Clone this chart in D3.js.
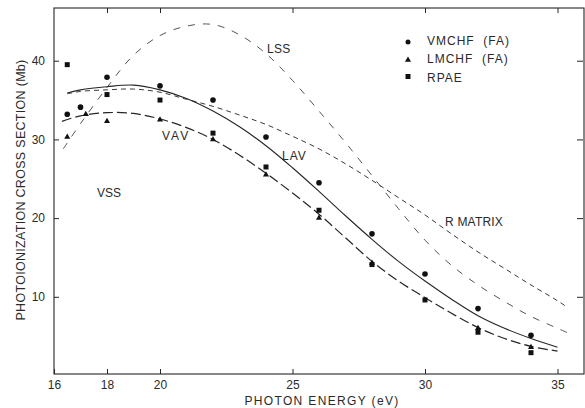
<!DOCTYPE html>
<html><head><meta charset="utf-8">
<script src="https://cdn.jsdelivr.net/npm/d3@7"></script>
<style>
html,body{margin:0;padding:0;background:#fff;}
svg text{font-family:"Liberation Sans",Arial,sans-serif;fill:#2a2a2a;}
</style>
</head><body>
<svg id="chart" width="585" height="408"></svg>
<script>
// ---- data ----
const xTicks = [16, 18, 20, 25, 30, 35];
const yTicks = [10, 20, 30, 40];

// theory curves
const lavE = [16.5, 17, 18, 19, 20, 21, 22, 23, 24, 25, 26, 27, 28, 29, 30, 31, 32, 33, 34, 35];
const lavV = [35.9, 36.3, 36.7, 36.9, 36.3, 35.2, 33.6, 31.6, 29.2, 26.4, 23.4, 20.3, 17.3, 14.5, 12.0, 9.7, 7.6, 6.0, 4.7, 3.6];

const vavE = [16.3, 17, 18, 19, 20, 21, 22, 23, 24, 25, 26, 27, 28, 29, 30, 31, 32, 33, 34, 35];
const vavV = [32.3, 33.0, 33.4, 33.3, 32.6, 31.5, 30.0, 28.0, 25.7, 23.2, 20.5, 17.5, 14.5, 12.0, 9.9, 7.9, 6.1, 4.7, 3.7, 3.1];

const rmE = [16.5, 17, 18, 19, 20, 21, 22, 23, 24, 25, 26, 27, 28, 29, 30, 31, 32, 33, 34, 35, 35.4];
const rmV = [35.8, 36.1, 36.3, 36.4, 36.0, 35.1, 34.2, 33.1, 31.9, 30.4, 28.8, 26.9, 24.8, 22.6, 20.4, 18.0, 15.7, 13.6, 11.5, 9.5, 8.6];

const lssE = [16.35, 17, 18, 19, 20, 21, 22, 23, 24, 25, 26, 27, 28, 29, 30, 31, 32, 33, 34, 35, 35.4];
const lssV = [28.8, 32.0, 36.6, 40.7, 43.2, 44.4, 44.6, 43.3, 40.9, 37.5, 33.6, 29.6, 25.4, 21.2, 17.2, 14.0, 11.5, 9.4, 7.5, 6.0, 5.4];

// calculated points
const vmE = [16.5, 17, 18, 20, 22, 24, 26, 28, 30, 32, 34];
const vmV = [33.2, 34.1, 37.9, 36.8, 35.0, 30.3, 24.5, 18.0, 12.9, 8.5, 5.1];

const lmE = [16.5, 17.2, 18, 20, 22, 24, 26, 28, 32, 34];
const lmV = [30.3, 33.2, 32.3, 32.5, 30.0, 25.5, 20.0, 14.3, 6.0, 3.6];

const rpE = [16.5, 18, 20, 22, 24, 26, 28, 30, 32, 34];
const rpV = [39.5, 35.7, 35.0, 30.8, 26.5, 21.0, 14.1, 9.6, 5.5, 2.9];

const legendLabels = ["VMCHF  (FA)", "LMCHF  (FA)", "RPAE"];
const curveLabels = ["LSS", "VAV", "LAV", "VSS", "R MATRIX"];

// ---- drawing ----
const svg = d3.select("#chart");
const L = 54, R = 584, T = 8, B = 374;
const x = d3.scaleLinear().domain([16, 36]).range([L, R]);
const y = d3.scaleLinear().domain([0, 46.7]).range([375.5, T]);

const ink = "#262626";

// frame
svg.append("rect").attr("x", L).attr("y", T).attr("width", R - L).attr("height", B - T)
  .attr("fill", "none").attr("stroke", ink).attr("stroke-width", 1.1);

function styleAxis(g) {
  g.select(".domain").remove();
  g.selectAll(".tick line").attr("stroke", ink).attr("stroke-width", 1);
  g.selectAll(".tick text").attr("font-size", 12).attr("fill", "#2a2a2a")
    .style("font-family", '"Liberation Sans",Arial,sans-serif');
}
svg.append("g").attr("transform", `translate(0,${B})`)
  .call(d3.axisBottom(x).tickValues(xTicks).tickSize(-5).tickPadding(6).tickFormat(d3.format("d")))
  .call(styleAxis);
svg.append("g").attr("transform", `translate(0,${T})`)
  .call(d3.axisTop(x).tickValues(xTicks.slice(1)).tickSize(-5).tickFormat(""))
  .call(styleAxis);
svg.append("g").attr("transform", `translate(${L},0)`)
  .call(d3.axisLeft(y).tickValues(yTicks).tickSize(-5).tickPadding(9).tickFormat(d3.format("d")))
  .call(styleAxis);
svg.append("g").attr("transform", `translate(${R - 1},0)`)
  .call(d3.axisRight(y).tickValues(yTicks).tickSize(-6).tickFormat(""))
  .call(styleAxis);

// axis titles
svg.append("text").attr("x", 322).attr("y", 405).attr("text-anchor", "middle")
  .attr("font-size", 12).attr("letter-spacing", 1.35).style("white-space", "pre")
  .text("PHOTON ENERGY (eV)");
svg.append("text").attr("transform", "translate(25,190) rotate(-90)").attr("text-anchor", "middle")
  .attr("font-size", 12.5).attr("letter-spacing", 0.3)
  .text("PHOTOIONIZATION CROSS SECTION (Mb)");

// curves
const line = d3.line().x(d => x(d[0])).y(d => y(d[1])).curve(d3.curveCatmullRom.alpha(0.5));
function drawCurve(E, V, dash, w, col) {
  svg.append("path").datum(E.map((e, i) => [e, V[i]]))
    .attr("d", line).attr("fill", "none").attr("stroke", col)
    .attr("stroke-width", w).attr("stroke-dasharray", dash);
}
drawCurve(lssE, lssV, "7,8", 1, "#555");
drawCurve(rmE, rmV, "5,4", 1, "#3a3a3a");
drawCurve(vavE, vavV, "10,4", 1.2, ink);
drawCurve(lavE, lavV, null, 1.1, ink);

// markers
svg.append("g").selectAll("circle").data(vmE.map((e, i) => [e, vmV[i]])).join("circle")
  .attr("cx", d => x(d[0])).attr("cy", d => y(d[1])).attr("r", 2.8).attr("fill", "#111");
const sq = 5;
svg.append("g").selectAll("rect").data(rpE.map((e, i) => [e, rpV[i]])).join("rect")
  .attr("x", d => x(d[0]) - sq / 2).attr("y", d => y(d[1]) - sq / 2)
  .attr("width", sq).attr("height", sq).attr("fill", "#111");
const tri = d3.symbol().type(d3.symbolTriangle).size(16);
svg.append("g").selectAll("path").data(lmE.map((e, i) => [e, lmV[i]])).join("path")
  .attr("d", tri).attr("transform", d => `translate(${x(d[0])},${y(d[1])})`).attr("fill", "#111");

// legend
const lg = svg.append("g");
const rows = [45, 63, 82];
lg.append("circle").attr("cx", 408).attr("cy", 42).attr("r", 2.5).attr("fill", "#111");
lg.append("path").attr("d", tri).attr("transform", "translate(408,60)").attr("fill", "#111");
lg.append("rect").attr("x", 405.5).attr("y", 74).attr("width", 5).attr("height", 5).attr("fill", "#111");
legendLabels.forEach((t, i) => {
  lg.append("text").attr("x", 427).attr("y", rows[i]).attr("font-size", 12)
    .attr("letter-spacing", 1).style("white-space", "pre").text(t);
});

// curve labels
const labelPos = [[267, 53, 0.3], [162, 140, 2], [282, 160, 1], [97, 197, 0], [445, 226, 0.2]];
curveLabels.forEach((t, i) => {
  svg.append("text").attr("x", labelPos[i][0]).attr("y", labelPos[i][1])
    .attr("font-size", 12).attr("letter-spacing", labelPos[i][2]).text(t);
});
</script>
</body></html>
